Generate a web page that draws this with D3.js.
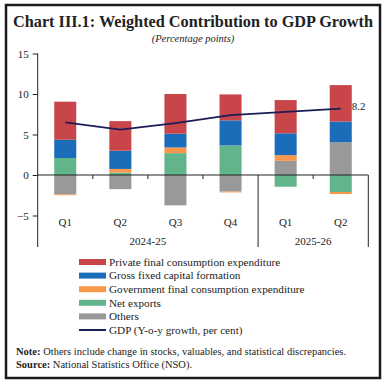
<!DOCTYPE html>
<html>
<head>
<meta charset="utf-8">
<script src="https://cdn.jsdelivr.net/npm/d3@7"></script>
<style>
  body { margin: 0; background: #fff; }
  svg text { font-family: "Liberation Serif", serif; fill: #222; }
</style>
</head>
<body>
<script>
// data
let quarters = ["Q1", "Q2", "Q3", "Q4", "Q1b", "Q2b"];
let qLabels = ["Q1", "Q2", "Q3", "Q4", "Q1", "Q2"];
let years = ["2024-25", "2025-26"];
let pfce = [4.7, 3.65, 4.9, 3.2, 4.1, 4.5];
let gfcf = [2.25, 2.25, 1.7, 3.1, 2.7, 2.55];
let govt = [-0.1, 0.45, 0.7, -0.1, 0.7, -0.25];
let netExports = [2.1, 0.3, 2.7, 3.65, -1.45, -2.1];
let others = [-2.4, -1.75, -3.75, -2.05, 1.75, 4.05];
let gdp = [6.5, 5.6, 6.4, 7.4, 7.8, 8.2];
let yTicks = [-5, 0, 5, 10, 15];

let w = 387, h = 386;
let svg = d3.select("body").append("svg").attr("width", w).attr("height", h);

// frame
svg.append("rect").attr("x", 6).attr("y", 5).attr("width", 374).attr("height", 373)
  .attr("fill", "none").attr("stroke", "#1a1a1a").attr("stroke-width", 2.5);

svg.append("text").attr("x", 193).attr("y", 27).attr("text-anchor", "middle")
  .style("font-size", "16.5px").style("font-weight", "bold")
  .attr("textLength", 360).attr("lengthAdjust", "spacingAndGlyphs")
  .text("Chart III.1: Weighted Contribution to GDP Growth");
svg.append("text").attr("x", 193).attr("y", 42).attr("text-anchor", "middle")
  .style("font-size", "10.5px").style("font-style", "italic")
  .text("(Percentage points)");

let keys = ["others", "netExports", "govt", "gfcf", "pfce"];
let colors = {pfce: "#c8464a", gfcf: "#1b6dba", govt: "#f7984a", netExports: "#62b48a", others: "#999999"};
let rows = quarters.map((q, i) => ({q: q, pfce: pfce[i], gfcf: gfcf[i], govt: govt[i], netExports: netExports[i], others: others[i]}));

let x = d3.scaleBand().domain(quarters).range([37.7, 368.3]).paddingInner(0.6).paddingOuter(0.3);
let y = d3.scaleLinear().domain([-5, 15]).range([215.5, 53.5]);
let axisBottom = 247;

let series = d3.stack().keys(keys).offset(d3.stackOffsetDiverging)(rows);

svg.append("g").selectAll("g").data(series).enter().append("g")
  .attr("fill", d => colors[d.key])
  .selectAll("rect").data(d => d).enter().append("rect")
  .attr("x", d => x(d.data.q))
  .attr("width", x.bandwidth())
  .attr("y", d => y(Math.max(d[0], d[1])))
  .attr("height", d => Math.abs(y(d[0]) - y(d[1])));

// y axis
let yAxis = svg.append("g").attr("transform", "translate(37.7,0)")
  .call(d3.axisLeft(y).tickValues(yTicks).tickSize(5).tickPadding(4));
yAxis.select(".domain").remove();
yAxis.selectAll("line").attr("stroke", "#222");
yAxis.selectAll("text").style("font-size", "11px").style("font-family", "Liberation Serif");
svg.append("line").attr("x1", 37.7).attr("x2", 37.7).attr("y1", y(15)).attr("y2", axisBottom)
  .attr("stroke", "#222");

// x axis at zero
let step = x.step();
let x0 = x.range()[0];
svg.append("line").attr("x1", x0).attr("x2", x.range()[1]).attr("y1", y(0)).attr("y2", y(0))
  .attr("stroke", "#222").attr("stroke-width", 1.2);
d3.range(1, 6).forEach(k => {
  svg.append("line").attr("x1", x0 + k * step).attr("x2", x0 + k * step)
    .attr("y1", y(0)).attr("y2", k == 4 ? axisBottom : y(0) + 4).attr("stroke", "#222");
});
svg.append("line").attr("x1", x.range()[1]).attr("x2", x.range()[1])
  .attr("y1", y(0)).attr("y2", axisBottom).attr("stroke", "#222");

svg.append("g").selectAll("text").data(quarters).enter().append("text")
  .attr("x", d => x(d) + x.bandwidth() / 2).attr("y", 226)
  .attr("text-anchor", "middle").style("font-size", "11px")
  .text((d, i) => qLabels[i]);
svg.append("g").selectAll("text").data(years).enter().append("text")
  .attr("x", (d, i) => i == 0 ? x0 + 2 * step : x0 + 5 * step)
  .attr("y", 245).attr("text-anchor", "middle").style("font-size", "11px")
  .text(d => d);

// GDP line
let line = d3.line().x((d, i) => x(quarters[i]) + x.bandwidth() / 2).y(d => y(d));
svg.append("path").datum(gdp).attr("d", line)
  .attr("fill", "none").attr("stroke", "#1c1c56").attr("stroke-width", 1.8);
svg.append("text").attr("x", x(quarters[5]) + x.bandwidth() / 2 + 11).attr("y", y(gdp[5]) + 1)
  .style("font-size", "11px").text(gdp[5].toFixed(1));

// legend
let legend = [
  ["Private final consumption expenditure", "pfce"],
  ["Gross fixed capital formation", "gfcf"],
  ["Government final consumption expenditure", "govt"],
  ["Net exports", "netExports"],
  ["Others", "others"],
  ["GDP (Y-o-y growth, per cent)", "gdp"]
];
let lg = svg.append("g").selectAll("g").data(legend).enter().append("g")
  .attr("transform", (d, i) => "translate(79," + (262 + i * 13.6) + ")");
lg.filter(d => d[1] != "gdp").append("rect")
  .attr("x", 0).attr("y", -3).attr("width", 27).attr("height", 6)
  .attr("fill", d => colors[d[1]]);
lg.filter(d => d[1] == "gdp").append("line")
  .attr("x1", 0).attr("x2", 27).attr("y1", 0).attr("y2", 0)
  .attr("stroke", "#1c1c56").attr("stroke-width", 2);
lg.append("text").attr("x", 30).attr("y", 3.8).style("font-size", "11.2px").text(d => d[0]);

// notes
let note = svg.append("text").attr("x", 16).attr("y", 355).style("font-size", "10.5px");
note.append("tspan").style("font-weight", "bold").text("Note: ");
note.append("tspan").text("Others include change in stocks, valuables, and statistical discrepancies.");
let src = svg.append("text").attr("x", 16).attr("y", 367.5).style("font-size", "10.5px");
src.append("tspan").style("font-weight", "bold").text("Source: ");
src.append("tspan").text("National Statistics Office (NSO).");
</script>
</body>
</html>
